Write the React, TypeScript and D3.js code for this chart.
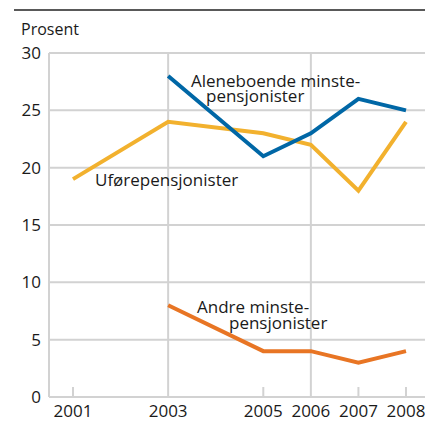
import React from "react";
import * as d3 from "d3";

const years = [2001, 2003, 2005, 2006, 2007, 2008];
const ufore = [19, 24, 23, 22, 18, 24];
const aleneYears = [2003, 2005, 2006, 2007, 2008];
const alene = [28, 21, 23, 26, 25];
const andreYears = [2003, 2005, 2006, 2007, 2008];
const andre = [8, 4, 4, 3, 4];
const yTicks = [0, 5, 10, 15, 20, 25, 30];
const gridYears = [2003, 2006];
const tickYears = [2001, 2005, 2007, 2008];

const W = 425;
const H = 422;
const font = "'Open Sans', sans-serif";

export default function App() {
  const x = d3.scaleLinear().domain([2001, 2008]).range([73, 406]);
  const y = d3.scaleLinear().domain([0, 30]).range([397, 53]);
  const left = 49;
  const line = d3
    .line<[number, number]>()
    .x((d) => x(d[0]))
    .y((d) => y(d[1]));
  const grid = "#d2d2d2";
  const series = [
    { xs: years, vs: ufore, color: "#f2b12e" },
    { xs: aleneYears, vs: alene, color: "#0067a6" },
    { xs: andreYears, vs: andre, color: "#e87524" },
  ];
  return (
    <svg
      width={W}
      height={H}
      style={{ position: "absolute", left: 0, top: 0, background: "#fff" }}
      fontFamily={font}
    >
      <line x1={14} x2={W} y1={10} y2={10} stroke="#222" strokeWidth={1.5} />
      <text x={21} y={35} fontSize={16} fill="#1a1a1a">Prosent</text>
      {yTicks.map((t) => (
        <g key={t}>
          <line x1={left} x2={W} y1={y(t)} y2={y(t)} stroke={grid} strokeWidth={2} />
          <text x={41} y={y(t) + 6} fontSize={17} textAnchor="end" fill="#1a1a1a">
            {t}
          </text>
        </g>
      ))}
      <line x1={left} x2={left} y1={y(30)} y2={y(0)} stroke={grid} strokeWidth={2} />
      {gridYears.map((g) => (
        <line key={g} x1={x(g)} x2={x(g)} y1={y(30)} y2={y(0)} stroke={grid} strokeWidth={2} />
      ))}
      {tickYears.map((g) => (
        <line key={g} x1={x(g)} x2={x(g)} y1={y(0) - 10} y2={y(0)} stroke={grid} strokeWidth={2} />
      ))}
      {years.map((yr) => (
        <text key={yr} x={x(yr)} y={417} fontSize={17} textAnchor="middle" fill="#1a1a1a">
          {yr}
        </text>
      ))}
      {series.map((s, i) => (
        <path
          key={i}
          d={line(s.xs.map((v, j) => [v, s.vs[j]] as [number, number])) || ""}
          fill="none"
          stroke={s.color}
          strokeWidth={4}
          strokeLinejoin="miter"
        />
      ))}
      <text fontSize={17} fill="#1a1a1a">
        <tspan x={191} y={87}>Aleneboende minste-</tspan>
        <tspan x={206} y={102}>pensjonister</tspan>
      </text>
      <text x={95} y={186} fontSize={17} fill="#1a1a1a">Uførepensjonister</text>
      <text fontSize={17} fill="#1a1a1a">
        <tspan x={197} y={313}>Andre minste-</tspan>
        <tspan x={229} y={329}>pensjonister</tspan>
      </text>
    </svg>
  );
}
